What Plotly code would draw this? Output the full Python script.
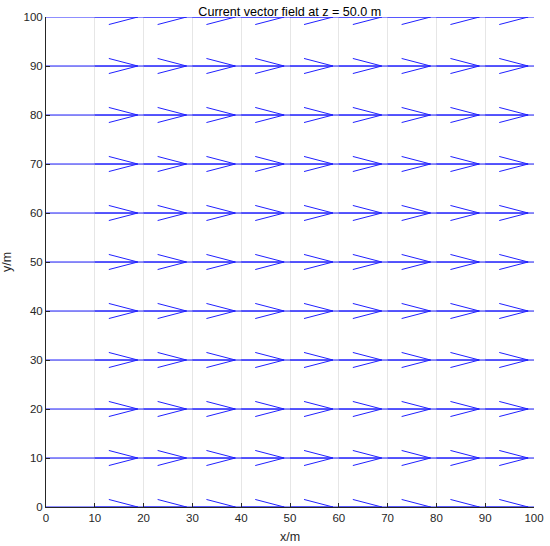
import numpy as np
import plotly.graph_objects as go

# grid of sample points (m) and current components at z = 50 m
x_pts = [0, 10, 20, 30, 40, 50, 60, 70, 80, 90, 100]
y_pts = [0, 10, 20, 30, 40, 50, 60, 70, 80, 90, 100]
u_vals = [1.0] * len(x_pts)   # same along every row
v_vals = [0.0] * len(x_pts)
depth = 50.0

# quiver drawing settings (MATLAB-like arrows)
scale = 18.8
head_back = 0.315
head_wide = 0.26

xs, ys = [], []
for yy in y_pts:
    for xx, u, v in zip(x_pts, u_vals, v_vals):
        tx, ty = xx + u * scale, yy + v * scale
        du, dv = u * scale, v * scale
        # shaft
        xs += [xx, tx, None]
        ys += [yy, ty, None]
        # head barbs
        xs += [tx - head_back * (du + head_wide * dv), tx,
               tx - head_back * (du - head_wide * dv), None]
        ys += [ty - head_back * (dv - head_wide * du), ty,
               ty - head_back * (dv + head_wide * du), None]

fig = go.Figure()
fig.add_trace(go.Scatter(
    x=xs, y=ys, mode="lines",
    line=dict(color="#2020ff", width=1),
    hoverinfo="skip", showlegend=False,
))

axis_font = dict(family="Liberation Sans, Arial, sans-serif", size=11.5, color="#262626")
label_font = dict(family="Liberation Sans, Arial, sans-serif", size=12.5, color="#262626")
common = dict(
    range=[0, 100], dtick=10, showgrid=True, gridcolor="#e6e6e6", gridwidth=1,
    zeroline=False, showline=True, linecolor="#262626", linewidth=1,
    ticks="inside", ticklen=4, tickcolor="#262626", tickfont=axis_font,
    mirror=False, automargin=False,
)

fig.update_layout(
    width=550, height=546,
    paper_bgcolor="white", plot_bgcolor="white",
    margin=dict(l=46, r=16, t=17, b=39),
    title=dict(text=f"Current vector field at z = {depth:.1f} m",
               font=dict(family="Liberation Sans, Arial, sans-serif", size=12.6, color="black"),
               x=0.527, xanchor="center", yref="paper", y=1, yanchor="bottom",
               pad=dict(b=1)),
    xaxis=dict(title=dict(text="x/m", font=label_font, standoff=9), **common),
    yaxis=dict(title=dict(text="y/m", font=label_font, standoff=13), **common),
)

# drop the browser's default body margin so the figure fills the window
fig.write_html("out.html", config={"displayModeBar": False},
               post_script="document.body.style.margin = '0';")
